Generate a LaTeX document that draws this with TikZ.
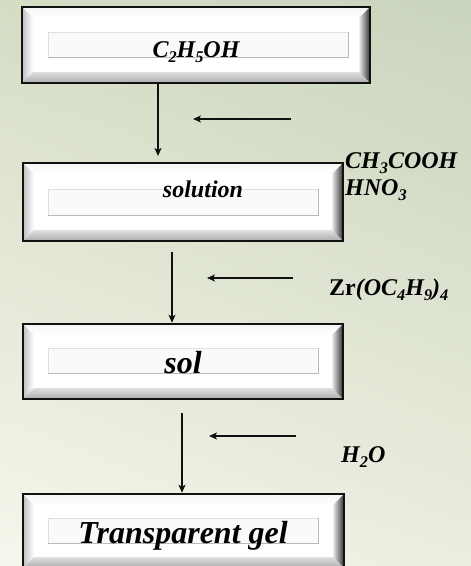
\documentclass[tikz,border=0pt]{standalone}
\usepackage{fontspec}
\setmainfont{Liberation Serif}
\usetikzlibrary{arrows.meta,calc,fit,shadings}

\definecolor{bgUL}{HTML}{D5DDC5}
\definecolor{bgUR}{HTML}{C9D4BD}
\definecolor{bgLL}{HTML}{F6F6EC}
\definecolor{bgLR}{HTML}{ECEEDF}
\definecolor{ink}{HTML}{111111}

% chemical subscript
\newcommand\chsub[1]{\raisebox{-0.22em}{\scalebox{0.68}{#1}}}

% bevelled box: name, outer corners (x1,y1) (x2,y2), panel corners (p1,q1) (p2,q2)
\newcommand\bevelbox[9]{%
  \coordinate (#1-a) at (#2,#3);
  \coordinate (#1-b) at (#4,#3);
  \coordinate (#1-c) at (#4,#5);
  \coordinate (#1-d) at (#2,#5);
  \coordinate (#1-A) at ($(#1-a)+(11,11)$);
  \coordinate (#1-B) at ($(#1-b)+(-11,11)$);
  \coordinate (#1-C) at ($(#1-c)+(-11,-11)$);
  \coordinate (#1-D) at ($(#1-d)+(11,-11)$);
  \fill[white] (#1-A) rectangle (#1-C);
  \shade[top color=gray!8, bottom color=white] (#1-a) -- (#1-b) -- (#1-B) -- (#1-A) -- cycle;
  \shade[left color=gray!50, right color=white] (#1-a) -- (#1-A) -- (#1-D) -- (#1-d) -- cycle;
  \shade[left color=gray!15, right color=black!80] (#1-b) -- (#1-c) -- (#1-C) -- (#1-B) -- cycle;
  \shade[top color=gray!25, bottom color=gray!65] (#1-d) -- (#1-D) -- (#1-C) -- (#1-c) -- cycle;
  \node[fit=(#1-a)(#1-c), inner sep=0pt, draw=ink, line width=2.5pt] (#1) {};
  \fill[gray!4] (#6,#7) rectangle (#8,#9);
  \draw[gray!25, line width=1pt] (#6,#9) -- (#6,#7) -- (#8,#7);
  \draw[gray!55, line width=1pt] (#8,#7) -- (#8,#9) -- (#6,#9);
}

\begin{document}
\begin{tikzpicture}[x=1pt,y=-1pt,
  boxtext/.style={inner sep=0pt, anchor=base, font=\bfseries\itshape\fontsize{24}{28}\selectfont},
  bigtext/.style={inner sep=0pt, anchor=base, font=\bfseries\itshape\fontsize{32}{36}\selectfont},
  reagent/.style={inner sep=0pt, anchor=base west, font=\bfseries\itshape\fontsize{24}{27}\selectfont},
  flow/.style={draw=ink, line width=2pt, -{Stealth[length=8pt,width=7pt,inset=2pt]}}]

\useasboundingbox (0,0) rectangle (471,566);
\clip (0,0) rectangle (471,566);

% background
\shade[upper left=bgUL, upper right=bgUR, lower left=bgLL, lower right=bgLR] (0,0) rectangle (471,566);

% process boxes
\bevelbox{b1}{22}{7}{370}{83}{48}{32}{348}{57}
\bevelbox{b2}{23}{163}{343}{241}{48}{189}{318}{215}
\bevelbox{b3}{23}{324}{343}{399}{48}{348}{318}{373}
\bevelbox{b4}{23}{494}{344}{568}{48}{518}{318}{543}

% box captions
\node[boxtext] (t1) at (196,57) {C\chsub{2}H\chsub{5}OH};
\node[boxtext] (t2) at (203,197) {solution};
\node[bigtext] (t3) at (183,373) {sol};
\node[bigtext] (t4) at (183,543) {Transparent gel};

% reagents
\node[reagent] (r1) at (345,168)
  {\begin{tabular}[t]{@{}l@{}}CH\chsub{3}COOH\\HNO\chsub{3}\end{tabular}};
\node[reagent] (r3) at (329,295) {\textup{Zr}(OC\chsub{4}H\chsub{9})\chsub{4}};
\node[reagent] (r4) at (341,462) {H\chsub{2}O};

% flow arrows
\coordinate (v1) at (158,0);
\coordinate (v2) at (172,0);
\coordinate (v3) at (182,0);
\coordinate (e1) at (158,156);
\coordinate (s2) at (172,252);
\coordinate (s3) at (182,413);
\draw[flow] (b1.south -| v1) -- (e1);
\draw[flow] (s2) -- (b3.north -| v2);
\draw[flow] (s3) -- (b4.north -| v3);

% reagent feed arrows
\coordinate (h1s) at (291,119);
\coordinate (h1e) at (193,119);
\coordinate (h2s) at (293,278);
\coordinate (h2e) at (207,278);
\coordinate (h3s) at (296,436);
\coordinate (h3e) at (209,436);
\draw[flow] (h1s) -- (h1e);
\draw[flow] (h2s) -- (h2e);
\draw[flow] (h3s) -- (h3e);
\end{tikzpicture}
\end{document}
